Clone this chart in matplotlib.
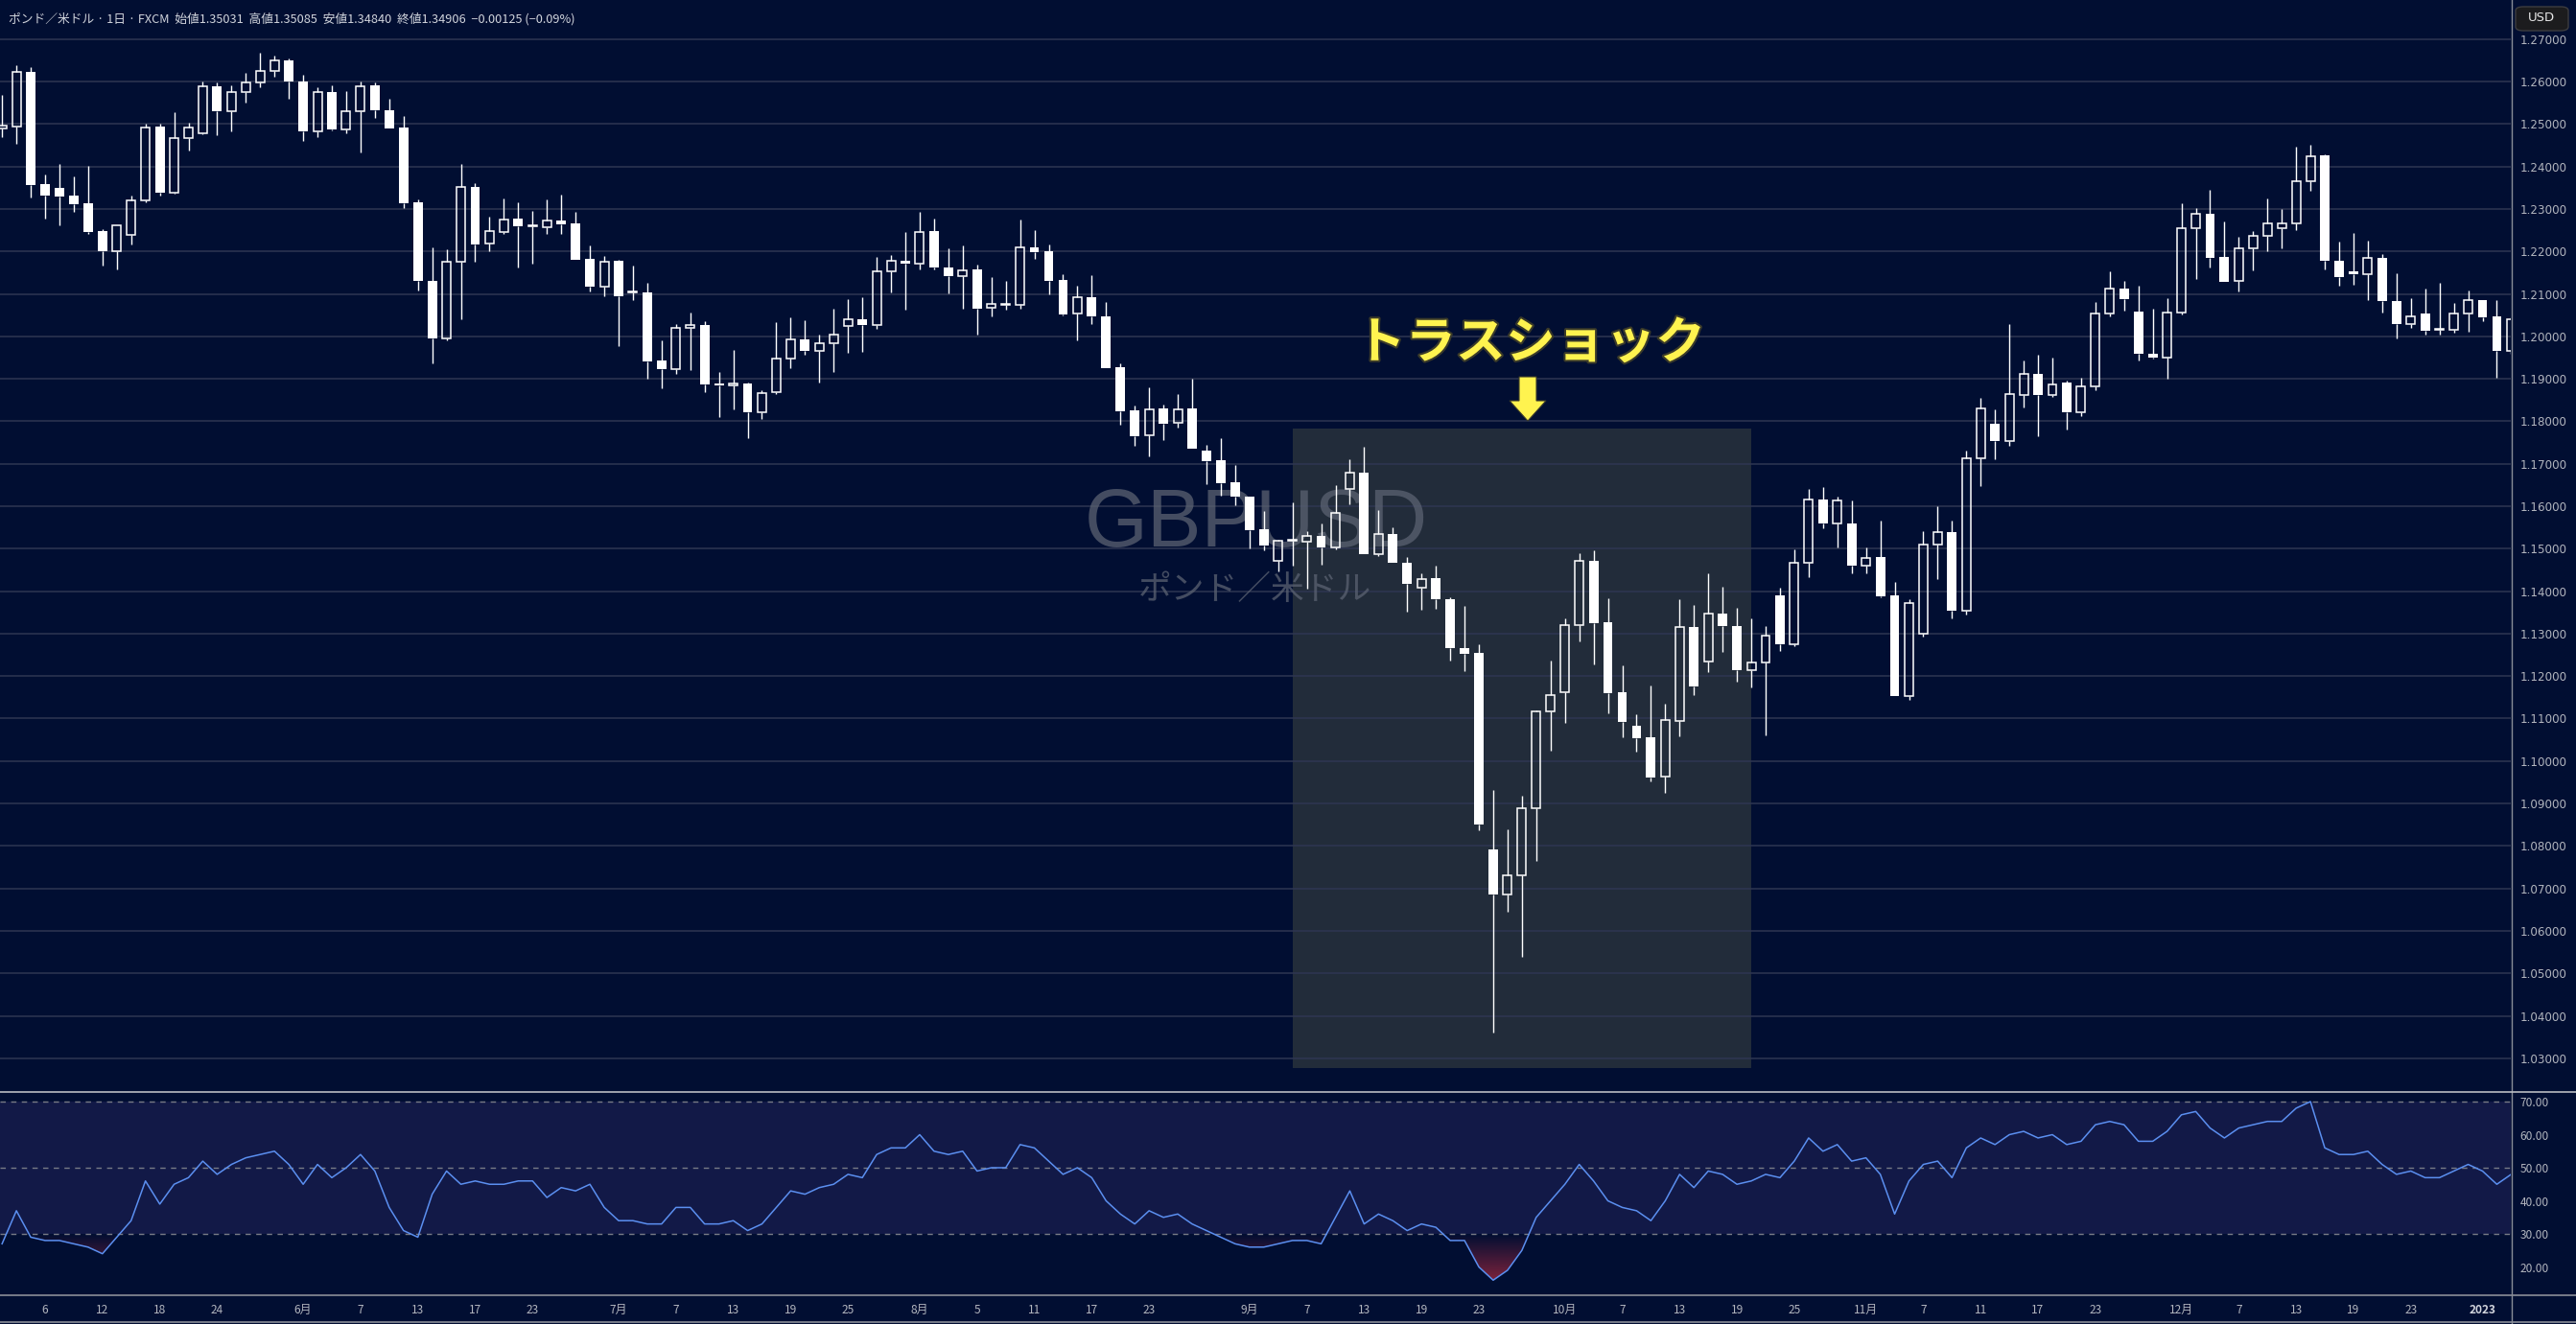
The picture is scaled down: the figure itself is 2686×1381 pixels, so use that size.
import numpy as np
import pandas as pd
import matplotlib
matplotlib.use("Agg")
import matplotlib.pyplot as plt
from matplotlib.patches import Rectangle, Polygon, FancyBboxPatch
from matplotlib.lines import Line2D
from matplotlib.path import Path
import matplotlib.patheffects as pe

plt.rcParams['font.family'] = ['Noto Sans CJK JP', 'DejaVu Sans']

W, H = 2686, 1381

# ---- data (GBPUSD daily, FXCM) ----
dates = [d for d in pd.bdate_range('2022-05-03', '2023-01-04') if d != pd.Timestamp('2022-12-26')]

opens = [1.2490, 1.2494, 1.2623, 1.2358, 1.2349, 1.2331, 1.2313, 1.2248, 1.2200, 1.2238,
         1.2319, 1.2493, 1.2339, 1.2467, 1.2479, 1.2589, 1.2530, 1.2575, 1.2598, 1.2625,
         1.2650, 1.2601, 1.2482, 1.2576, 1.2487, 1.2530, 1.2590, 1.2533, 1.2491, 1.2315,
         1.2131, 1.1995, 1.2175, 1.2351, 1.2218, 1.2246, 1.2277, 1.2260, 1.2258, 1.2272,
         1.2266, 1.2183, 1.2116, 1.2177, 1.2103, 1.2103, 1.1942, 1.1923, 1.2020, 1.2026,
         1.1888, 1.1885, 1.1890, 1.1821, 1.1868, 1.1948, 1.1993, 1.1965, 1.1984, 1.2024,
         1.2040, 1.2026, 1.2154, 1.2177, 1.2170, 1.2247, 1.2163, 1.2142, 1.2157, 1.2067,
         1.2075, 1.2073, 1.2210, 1.2200, 1.2132, 1.2053, 1.2092, 1.2047, 1.1928, 1.1825,
         1.1766, 1.1830, 1.1796, 1.1830, 1.1730, 1.1708, 1.1657, 1.1623, 1.1545, 1.1472,
         1.1518, 1.1517, 1.1530, 1.1503, 1.1640, 1.1678, 1.1488, 1.1535, 1.1466, 1.1409,
         1.1431, 1.1382, 1.1267, 1.1254, 1.0792, 1.0686, 1.0731, 1.0890, 1.1116, 1.1161,
         1.1321, 1.1472, 1.1326, 1.1161, 1.1083, 1.1055, 1.0963, 1.1095, 1.1316, 1.1235,
         1.1348, 1.1318, 1.1215, 1.1232, 1.1391, 1.1275, 1.1466, 1.1615, 1.1560, 1.1560,
         1.1459, 1.1480, 1.1389, 1.1154, 1.1299, 1.1509, 1.1539, 1.1353, 1.1714, 1.1794,
         1.1753, 1.1862, 1.1912, 1.1862, 1.1891, 1.1822, 1.1882, 1.2053, 1.2113, 1.2059,
         1.1960, 1.1951, 1.2055, 1.2254, 1.2288, 1.2187, 1.2130, 1.2208, 1.2236, 1.2254,
         1.2265, 1.2365, 1.2426, 1.2179, 1.2153, 1.2147, 1.2185, 1.2083, 1.2028, 1.2054,
         1.2016, 1.2016, 1.2053, 1.2086, 1.2046, 1.1965]
highs = [1.2569, 1.2639, 1.2634, 1.2381, 1.2407, 1.2376, 1.2401, 1.2252, 1.2261, 1.2331,
         1.2500, 1.2501, 1.2527, 1.2502, 1.2600, 1.2598, 1.2592, 1.2621, 1.2668, 1.2661,
         1.2654, 1.2616, 1.2587, 1.2590, 1.2578, 1.2601, 1.2598, 1.2560, 1.2518, 1.2322,
         1.2210, 1.2205, 1.2407, 1.2360, 1.2282, 1.2324, 1.2315, 1.2295, 1.2322, 1.2333,
         1.2293, 1.2214, 1.2190, 1.2181, 1.2166, 1.2125, 1.1990, 1.2029, 1.2055, 1.2035,
         1.1917, 1.1967, 1.1892, 1.1874, 1.2034, 1.2045, 1.2038, 1.2005, 1.2065, 1.2088,
         1.2091, 1.2186, 1.2192, 1.2245, 1.2294, 1.2278, 1.2207, 1.2215, 1.2168, 1.2139,
         1.2130, 1.2276, 1.2249, 1.2216, 1.2147, 1.2119, 1.2144, 1.2081, 1.1936, 1.1836,
         1.1879, 1.1839, 1.1865, 1.1901, 1.1744, 1.1761, 1.1696, 1.1623, 1.1589, 1.1522,
         1.1608, 1.1542, 1.1560, 1.1649, 1.1710, 1.1739, 1.1590, 1.1550, 1.1481, 1.1442,
         1.1461, 1.1386, 1.1366, 1.1274, 1.0932, 1.0840, 1.0918, 1.1120, 1.1236, 1.1336,
         1.1489, 1.1497, 1.1383, 1.1226, 1.1111, 1.1179, 1.1134, 1.1382, 1.1367, 1.1442,
         1.1411, 1.1361, 1.1337, 1.1317, 1.1408, 1.1498, 1.1640, 1.1646, 1.1623, 1.1613,
         1.1502, 1.1566, 1.1421, 1.1380, 1.1541, 1.1599, 1.1567, 1.1731, 1.1856, 1.1829,
         1.2029, 1.1942, 1.1957, 1.1951, 1.1896, 1.1903, 1.2081, 1.2154, 1.2130, 1.2120,
         1.2066, 1.2089, 1.2313, 1.2301, 1.2345, 1.2271, 1.2234, 1.2248, 1.2325, 1.2300,
         1.2447, 1.2450, 1.2428, 1.2224, 1.2244, 1.2226, 1.2194, 1.2149, 1.2090, 1.2113,
         1.2127, 1.2079, 1.2108, 1.2086, 1.2086, 1.2045]
lows = [1.2470, 1.2453, 1.2327, 1.2278, 1.2262, 1.2294, 1.2240, 1.2166, 1.2157, 1.2216,
        1.2316, 1.2332, 1.2337, 1.2437, 1.2476, 1.2473, 1.2482, 1.2551, 1.2587, 1.2612,
        1.2560, 1.2459, 1.2470, 1.2486, 1.2477, 1.2432, 1.2515, 1.2489, 1.2302, 1.2109,
        1.1936, 1.1990, 1.2041, 1.2175, 1.2201, 1.2242, 1.2163, 1.2172, 1.2242, 1.2240,
        1.2181, 1.2106, 1.2094, 1.1977, 1.2085, 1.1900, 1.1877, 1.1911, 1.1920, 1.1868,
        1.1810, 1.1827, 1.1760, 1.1805, 1.1864, 1.1926, 1.1956, 1.1891, 1.1917, 1.1962,
        1.1964, 1.2017, 1.2103, 1.2063, 1.2158, 1.2158, 1.2101, 1.2066, 1.2005, 1.2048,
        1.2063, 1.2065, 1.2183, 1.2100, 1.2050, 1.1990, 1.2028, 1.1925, 1.1792, 1.1743,
        1.1718, 1.1756, 1.1786, 1.1735, 1.1652, 1.1624, 1.1603, 1.1500, 1.1497, 1.1446,
        1.1461, 1.1405, 1.1463, 1.1499, 1.1604, 1.1488, 1.1482, 1.1466, 1.1351, 1.1356,
        1.1358, 1.1237, 1.1211, 1.0837, 1.0360, 1.0646, 1.0539, 1.0764, 1.1025, 1.1089,
        1.1282, 1.1227, 1.1113, 1.1055, 1.1022, 1.0953, 1.0926, 1.1059, 1.1155, 1.1210,
        1.1257, 1.1188, 1.1173, 1.1060, 1.1260, 1.1271, 1.1432, 1.1548, 1.1504, 1.1441,
        1.1442, 1.1386, 1.1152, 1.1143, 1.1292, 1.1429, 1.1335, 1.1346, 1.1647, 1.1711,
        1.1743, 1.1832, 1.1765, 1.1858, 1.1780, 1.1812, 1.1873, 1.2048, 1.2060, 1.1943,
        1.1947, 1.1901, 1.2051, 1.2135, 1.2162, 1.2129, 1.2106, 1.2156, 1.2201, 1.2208,
        1.2251, 1.2343, 1.2158, 1.2120, 1.2122, 1.2086, 1.2056, 1.1995, 1.2020, 1.2003,
        1.2003, 1.2008, 1.2010, 1.2035, 1.1902, 1.1960]
closes = [1.2496, 1.2622, 1.2357, 1.2332, 1.2330, 1.2312, 1.2246, 1.2200, 1.2261, 1.2319,
          1.2492, 1.2339, 1.2467, 1.2492, 1.2589, 1.2530, 1.2575, 1.2598, 1.2625, 1.2649,
          1.2599, 1.2482, 1.2575, 1.2488, 1.2530, 1.2589, 1.2532, 1.2489, 1.2313, 1.2130,
          1.1995, 1.2175, 1.2351, 1.2217, 1.2247, 1.2276, 1.2260, 1.2262, 1.2272, 1.2264,
          1.2181, 1.2116, 1.2176, 1.2094, 1.2105, 1.1940, 1.1922, 1.2020, 1.2026, 1.1886,
          1.1885, 1.1889, 1.1821, 1.1867, 1.1948, 1.1993, 1.1965, 1.1984, 1.2004, 1.2040,
          1.2026, 1.2154, 1.2177, 1.2170, 1.2246, 1.2162, 1.2142, 1.2156, 1.2066, 1.2076,
          1.2076, 1.2210, 1.2198, 1.2131, 1.2052, 1.2092, 1.2046, 1.1926, 1.1824, 1.1765,
          1.1829, 1.1794, 1.1829, 1.1736, 1.1707, 1.1655, 1.1622, 1.1544, 1.1508, 1.1518,
          1.1520, 1.1530, 1.1502, 1.1585, 1.1678, 1.1488, 1.1535, 1.1466, 1.1417, 1.1429,
          1.1381, 1.1266, 1.1252, 1.0851, 1.0686, 1.0731, 1.0890, 1.1116, 1.1156, 1.1321,
          1.1472, 1.1325, 1.1160, 1.1092, 1.1053, 1.0962, 1.1097, 1.1316, 1.1176, 1.1348,
          1.1317, 1.1215, 1.1232, 1.1296, 1.1275, 1.1466, 1.1615, 1.1560, 1.1613, 1.1459,
          1.1478, 1.1387, 1.1154, 1.1371, 1.1509, 1.1538, 1.1353, 1.1714, 1.1830, 1.1753,
          1.1863, 1.1912, 1.1862, 1.1887, 1.1822, 1.1882, 1.2053, 1.2112, 1.2087, 1.1958,
          1.1951, 1.2056, 1.2254, 1.2288, 1.2185, 1.2129, 1.2208, 1.2236, 1.2265, 1.2265,
          1.2365, 1.2425, 1.2177, 1.2140, 1.2147, 1.2184, 1.2082, 1.2028, 1.2047, 1.2013,
          1.2017, 1.2053, 1.2085, 1.2045, 1.1965, 1.2040]

# RSI(14)
rsi = [27, 37, 29, 28, 28, 27, 26, 24, 29, 34,
       46, 39, 45, 47, 52, 48, 51, 53, 54, 55,
       51, 45, 51, 47, 50, 54, 49, 38, 31, 29,
       42, 49, 45, 46, 45, 45, 46, 46, 41, 44,
       43, 45, 38, 34, 34, 33, 33, 38, 38, 33,
       33, 34, 31, 33, 38, 43, 42, 44, 45, 48,
       47, 54, 56, 56, 60, 55, 54, 55, 49, 50,
       50, 57, 56, 52, 48, 50, 47, 40, 36, 33,
       37, 35, 36, 33, 31, 29, 27, 26, 26, 27,
       28, 28, 27, 35, 43, 33, 36, 34, 31, 33,
       32, 28, 28, 20, 16, 19, 25, 35, 40, 45,
       51, 46, 40, 38, 37, 34, 40, 48, 44, 49,
       48, 45, 46, 48, 47, 52, 59, 55, 57, 52,
       53, 48, 36, 46, 51, 52, 47, 56, 59, 57,
       60, 61, 59, 60, 57, 58, 63, 64, 63, 58,
       58, 61, 66, 67, 62, 59, 62, 63, 64, 64,
       68, 70, 56, 54, 54, 55, 51, 48, 49, 47,
       47, 49, 51, 49, 45, 48]

tick_dates = ['2022-05-06', '2022-05-12', '2022-05-18', '2022-05-24', '2022-06-01', '2022-06-07',
              '2022-06-13', '2022-06-17', '2022-06-23', '2022-07-01', '2022-07-07', '2022-07-13',
              '2022-07-19', '2022-07-25', '2022-08-01', '2022-08-05', '2022-08-11', '2022-08-17',
              '2022-08-23', '2022-09-01', '2022-09-07', '2022-09-13', '2022-09-19', '2022-09-23',
              '2022-10-03', '2022-10-07', '2022-10-13', '2022-10-19', '2022-10-25', '2022-11-01',
              '2022-11-07', '2022-11-11', '2022-11-17', '2022-11-23', '2022-12-01', '2022-12-07',
              '2022-12-13', '2022-12-19', '2022-12-23', '2023-01-02']
tick_labels = ['6', '12', '18', '24', '6月', '7', '13', '17', '23', '7月', '7', '13', '19', '25',
               '8月', '5', '11', '17', '23', '9月', '7', '13', '19', '23', '10月', '7', '13', '19',
               '25', '11月', '7', '11', '17', '23', '12月', '7', '13', '19', '23', '2023']

price_ticks = [1.03 + 0.01 * k for k in range(25)]
rsi_ticks = [20, 30, 40, 50, 60, 70]

box_start, box_end = '2022-09-06', '2022-10-20'
box_top, box_bottom = 1.1783, 1.0277

# ---- colours ----
BG = '#010e32'
GRID = '#2e3652'
TXT = '#b2b5be'
WHITE = '#ffffff'

fig = plt.figure(figsize=(W / 100, H / 100), dpi=100, facecolor=BG)

def fx(px):
    return px / W

def fy(py):
    return 1 - py / H

x = np.arange(len(dates))
pos = {d.strftime('%Y-%m-%d'): i for i, d in enumerate(dates)}
step = 14.95
x0 = -2.15 / step
x1 = (2618 - 2.15) / step

ax = fig.add_axes([0, fy(1138), fx(2618), 1138 / H])
ax.set_facecolor(BG)
ax.set_xlim(x0, x1)
ax.set_ylim(1.02230, 1.27919)
for s in ax.spines.values():
    s.set_visible(False)
ax.set_xticks([])
ax.yaxis.tick_right()
ax.set_yticks(price_ticks)
ax.set_yticklabels(['%.5f' % v for v in price_ticks])
ax.tick_params(axis='y', length=0, pad=7, labelsize=8.6, labelcolor=TXT)
for lab in ax.get_yticklabels():
    lab.set_family('DejaVu Sans')
for v in price_ticks:
    ax.axhline(v, color=GRID, lw=1.1, zorder=1)

# highlighted period
bx0 = pos[box_start]
bx1 = pos[box_end]
ax.add_patch(Rectangle((bx0, box_bottom), bx1 - bx0, box_top - box_bottom,
                       facecolor='#27313c', alpha=0.88, edgecolor='none', zorder=0.8))

# watermark
ax.text(1310 / 2618, 1 - 548 / 1138, 'GBPUSD', transform=ax.transAxes, ha='center', va='center',
        fontsize=61, color='#5b6272', alpha=0.75, family='Liberation Sans', zorder=1.5)
ax.text(1309 / 2618, 1 - 615 / 1138, 'ポンド／米ドル', transform=ax.transAxes, ha='center',
        va='center', fontsize=25, color='#5b6272', alpha=0.75, zorder=1.5)

# candles
o = np.array(opens)
c = np.array(closes)
hi = np.array(highs)
lo = np.array(lows)
bull = c >= o
top = np.maximum(o, c)
bot = np.minimum(o, c)
hgt = np.maximum(top - bot, 0.00006)
bw = 0.66
ax.vlines(x, top, hi, color=WHITE, lw=1.0, zorder=3)
ax.vlines(x, lo, bot, color=WHITE, lw=1.0, zorder=3)
ax.bar(x[~bull], hgt[~bull], bottom=bot[~bull], width=bw, color=WHITE, lw=0, zorder=3)
ax.bar(x[bull], hgt[bull], bottom=bot[bull], width=bw - 0.06, facecolor='none',
       edgecolor=WHITE, lw=1.1, zorder=3)

# annotation
ax.text(1596 / 2618, 1 - 358 / 1138, 'トラスショック', transform=ax.transAxes, ha='center',
        va='center', fontsize=37.5, fontweight='bold', color='#fff34f', zorder=5,
        path_effects=[pe.withStroke(linewidth=3, foreground='#3a3a2a')])
arrow_px = [(1584, 393), (1602, 393), (1602, 418), (1612, 418), (1593, 439),
            (1574, 418), (1584, 418)]
ax.add_patch(Polygon([(fx(a), fy(b)) for a, b in arrow_px], closed=True,
                     transform=fig.transFigure, facecolor='#fff34f', edgecolor='#3a3a2a',
                     lw=0.8, zorder=5))

# ---- RSI panel ----
ax2 = fig.add_axes([0, fy(1350), fx(2618), 212 / H])
ax2.set_facecolor(BG)
ax2.set_xlim(x0, x1)
ax2.set_ylim(11.74, 73.19)
for s in ax2.spines.values():
    s.set_visible(False)
ax2.axhspan(30, 70, color='#121947', lw=0, zorder=0.5)
for v in (70, 50, 30):
    ax2.axhline(v, color='#787b86', lw=1.0, ls=(0, (4, 4)), zorder=1)
r = np.array(rsi, dtype=float)

# oversold gradient fill (transparent at 30, red further down)
fb = ax2.fill_between(x, r, 30, where=r < 30, interpolate=True, facecolor='none', lw=0)
paths = fb.get_paths()
if paths:
    grad_y = np.linspace(11.74, 30, 200)
    alpha = np.clip((30 - grad_y) / 30 * 1.1, 0, 1)
    img = np.zeros((200, 1, 4))
    img[:, 0, 0] = 242 / 255
    img[:, 0, 1] = 54 / 255
    img[:, 0, 2] = 69 / 255
    img[:, 0, 3] = alpha
    im = ax2.imshow(img, extent=[x0, x1, 11.74, 30], origin='lower', aspect='auto',
                    interpolation='bilinear', zorder=1.5)
    im.set_clip_path(Path.make_compound_path(*paths), transform=ax2.transData)
ax2.plot(x, r, color='#5b8ff0', lw=1.1, zorder=2)
ax2.set_xlim(x0, x1)
ax2.set_ylim(11.74, 73.19)
ax2.yaxis.tick_right()
ax2.set_yticks(rsi_ticks)
ax2.set_yticklabels(['%.2f' % v for v in rsi_ticks])
ax2.tick_params(axis='y', length=0, pad=7, labelsize=8.6, labelcolor=TXT)
ax2.set_xticks([pos[d] for d in tick_dates])
ax2.set_xticklabels(tick_labels)
ax2.tick_params(axis='x', length=0, pad=7, labelsize=8.6, labelcolor=TXT)
for lab in ax2.get_xticklabels():
    if lab.get_text() == '2023':
        lab.set_fontweight('bold')
        lab.set_color('#d1d4dc')

# separators
fig.add_artist(Line2D([fx(2618.5)] * 2, [0, 1], color='#8a8e98', lw=1.0))
fig.add_artist(Line2D([0, 1], [fy(1138.5)] * 2, color='#b8bbc2', lw=1.2))
fig.add_artist(Line2D([0, 1], [fy(1350.5)] * 2, color='#8a8e98', lw=1.2))
fig.add_artist(Line2D([0, 1], [fy(1379)] * 2, color='#8a8e98', lw=1.2))

# header
fig.text(fx(9), fy(20), 'ポンド／米ドル · 1日 · FXCM  始値1.35031  高値1.35085  安値1.34840  終値1.34906  −0.00125 (−0.09%)',
         ha='left', va='center', fontsize=9.2, color='#d1d4dc')

# currency box
fig.add_artist(FancyBboxPatch((fx(2623), fy(32)), fx(55), 25 / H,
                              boxstyle='round,pad=0,rounding_size=0.003', transform=fig.transFigure,
                              facecolor='#1c1c1e', edgecolor='#3c3c40', lw=1))
fig.text(fx(2650), fy(19), 'USD', ha='center', va='center', fontsize=9.5, color='#e8e8e8',
         family='DejaVu Sans')

fig.savefig('out.png', dpi=100, facecolor=BG)
